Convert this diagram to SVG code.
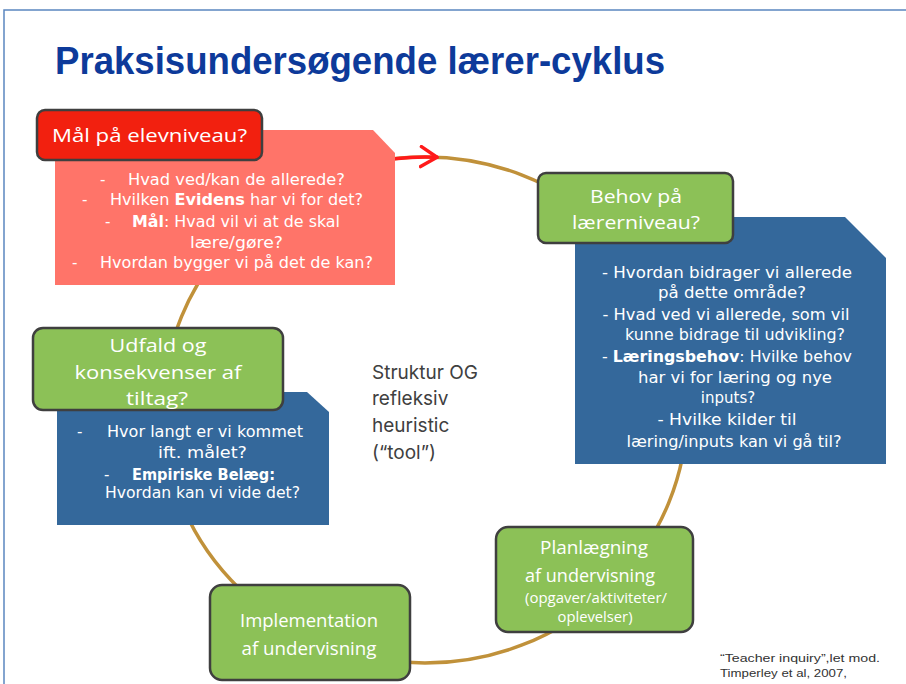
<svg xmlns="http://www.w3.org/2000/svg" width="906" height="684" viewBox="0 0 906 684">
<defs>
<style>
.frame{fill:none;stroke:#5B86C0;stroke-width:1.5}
.title{font-family:"Liberation Sans",Arial,sans-serif;font-weight:bold;font-size:38px;fill:#0D3A9A}
.green{fill:#8CC157;stroke:#3F3F3F;stroke-width:2.5}
.redbox{fill:#F2200F;stroke:#3F3F3F;stroke-width:2.5}
.pink{fill:#FF7469}
.blue{fill:#34689B}
.lbl{font-family:"Open Sans","DejaVu Sans",sans-serif;font-size:19px;fill:#fff;text-anchor:middle}
.lbls{font-family:"Open Sans","DejaVu Sans",sans-serif;font-size:15px;fill:#fff;text-anchor:middle}
.cm{font-family:"DejaVu Sans",sans-serif;font-size:15px;fill:#fff}
.mid{text-anchor:middle}
.b{font-weight:bold}
.center{font-family:"Inter","DejaVu Sans",sans-serif;font-size:19px;fill:#404040}
.cite{font-family:"Liberation Sans",Arial,sans-serif;font-size:11px;fill:#333}
.cycle{fill:none;stroke:#C0913A;stroke-width:3.5}
.redarrow{fill:none;stroke:#FF1A1A;stroke-width:3.5;stroke-linecap:round}
</style>
<marker id="arrowRed" viewBox="0 0 20 24" refX="18" refY="12" markerWidth="20" markerHeight="24" markerUnits="userSpaceOnUse" orient="auto">
<path d="M2,2 L18,12 L2,22" fill="none" stroke="#FF1A1A" stroke-width="3.5" stroke-linecap="round" stroke-linejoin="round"/>
</marker>
</defs>
<rect width="906" height="684" fill="#fff"/>
<path class="frame" d="M4,684 L4,10 L906,10"/>
<text class="title" x="55" y="74" textLength="610" lengthAdjust="spacingAndGlyphs">Praksisundersøgende lærer-cyklus</text>

<g id="connectors">
<ellipse class="cycle" cx="425" cy="410" rx="262" ry="253"/>
<path class="redarrow" d="M395,158.7 A262,253 0 0 1 437,157.3" marker-end="url(#arrowRed)"/>
</g>

<g id="node-maal">
<path class="pink" d="M55,130 L373,130 L395,153 L395,285 L55,285 Z"/>
<rect class="redbox" x="37" y="110" width="225" height="50" rx="8"/>
<text class="lbl" x="149.5" y="142" textLength="195" lengthAdjust="spacingAndGlyphs">Mål på elevniveau?</text>
<text class="cm" x="100" y="185">-</text>
<text class="cm" x="128" y="185" textLength="217" lengthAdjust="spacingAndGlyphs">Hvad ved/kan de allerede?</text>
<text class="cm" x="82" y="205">-</text>
<text class="cm" x="110" y="205" textLength="253" lengthAdjust="spacingAndGlyphs">Hvilken <tspan class="b">Evidens</tspan> har vi for det?</text>
<text class="cm" x="105" y="227">-</text>
<text class="cm" x="132" y="227" textLength="208" lengthAdjust="spacingAndGlyphs"><tspan class="b">Mål</tspan>: Hvad vil vi at de skal</text>
<text class="cm" x="190" y="248" textLength="93" lengthAdjust="spacingAndGlyphs">lære/gøre?</text>
<text class="cm" x="72" y="268">-</text>
<text class="cm" x="100" y="268" textLength="273" lengthAdjust="spacingAndGlyphs">Hvordan bygger vi på det de kan?</text>
</g>

<g id="node-behov">
<path class="blue" d="M575,217 L845,217 L886,258 L886,464 L575,464 Z"/>
<rect class="green" x="538" y="173" width="195" height="70" rx="8"/>
<text class="lbl" x="636" y="203" textLength="92" lengthAdjust="spacingAndGlyphs">Behov på</text>
<text class="lbl" x="636" y="229" textLength="128" lengthAdjust="spacingAndGlyphs">lærerniveau?</text>
<text class="cm mid" x="727" y="278" textLength="250" lengthAdjust="spacingAndGlyphs">- Hvordan bidrager vi allerede</text>
<text class="cm mid" x="732" y="298" textLength="148" lengthAdjust="spacingAndGlyphs">på dette område?</text>
<text class="cm mid" x="726" y="320" textLength="247" lengthAdjust="spacingAndGlyphs">- Hvad ved vi allerede, som vil</text>
<text class="cm mid" x="735" y="340" textLength="220" lengthAdjust="spacingAndGlyphs">kunne bidrage til udvikling?</text>
<text class="cm mid" x="727" y="362" textLength="250" lengthAdjust="spacingAndGlyphs">- <tspan class="b">Læringsbehov</tspan>: Hvilke behov</text>
<text class="cm mid" x="735" y="383" textLength="194" lengthAdjust="spacingAndGlyphs">har vi for læring og nye</text>
<text class="cm mid" x="728" y="403">inputs?</text>
<text class="cm mid" x="727" y="425" textLength="139" lengthAdjust="spacingAndGlyphs">- Hvilke kilder til</text>
<text class="cm mid" x="734" y="447" textLength="215" lengthAdjust="spacingAndGlyphs">læring/inputs kan vi gå til?</text>
</g>

<g id="node-planlaegning">
<rect class="green" x="496" y="527" width="197" height="105" rx="12"/>
<text class="lbl" x="594" y="554" textLength="108" lengthAdjust="spacingAndGlyphs">Planlægning</text>
<text class="lbl" x="590" y="582" textLength="130" lengthAdjust="spacingAndGlyphs">af undervisning</text>
<text class="lbls" x="596" y="603" textLength="142" lengthAdjust="spacingAndGlyphs">(opgaver/aktiviteter/</text>
<text class="lbls" x="595" y="622" textLength="75" lengthAdjust="spacingAndGlyphs">oplevelser)</text>
</g>

<g id="node-implementation">
<rect class="green" x="210" y="585" width="200" height="95" rx="12"/>
<text class="lbl" x="309" y="627" textLength="138" lengthAdjust="spacingAndGlyphs">Implementation</text>
<text class="lbl" x="309" y="655" textLength="135" lengthAdjust="spacingAndGlyphs">af undervisning</text>
</g>

<g id="node-udfald">
<path class="blue" d="M57,392 L307,392 L329,412 L329,525 L57,525 Z"/>
<rect class="green" x="33" y="328" width="250" height="82" rx="10"/>
<text class="lbl" x="158" y="352" textLength="97" lengthAdjust="spacingAndGlyphs">Udfald og</text>
<text class="lbl" x="158" y="379" textLength="167" lengthAdjust="spacingAndGlyphs">konsekvenser af</text>
<text class="lbl" x="157" y="405" textLength="62" lengthAdjust="spacingAndGlyphs">tiltag?</text>
<text class="cm" x="77" y="437">-</text>
<text class="cm" x="107" y="437" textLength="196" lengthAdjust="spacingAndGlyphs">Hvor langt er vi kommet</text>
<text class="cm" x="158" y="458" textLength="89" lengthAdjust="spacingAndGlyphs">ift. målet?</text>
<text class="cm" x="104" y="480">-</text>
<text class="cm b" x="132" y="480" textLength="143" lengthAdjust="spacingAndGlyphs">Empiriske Belæg:</text>
<text class="cm" x="105" y="498" textLength="195" lengthAdjust="spacingAndGlyphs">Hvordan kan vi vide det?</text>
</g>

<g id="center-text">
<text class="center" x="372" y="379">Struktur OG</text>
<text class="center" x="372" y="405">refleksiv</text>
<text class="center" x="372" y="432">heuristic</text>
<text class="center" x="372" y="459">(“tool”)</text>
</g>

<g id="citation">
<text class="cite" x="720" y="662" textLength="160" lengthAdjust="spacingAndGlyphs">“Teacher inquiry”,let mod.</text>
<text class="cite" x="720" y="677" textLength="127" lengthAdjust="spacingAndGlyphs">Timperley et al, 2007,</text>
</g>
</svg>
